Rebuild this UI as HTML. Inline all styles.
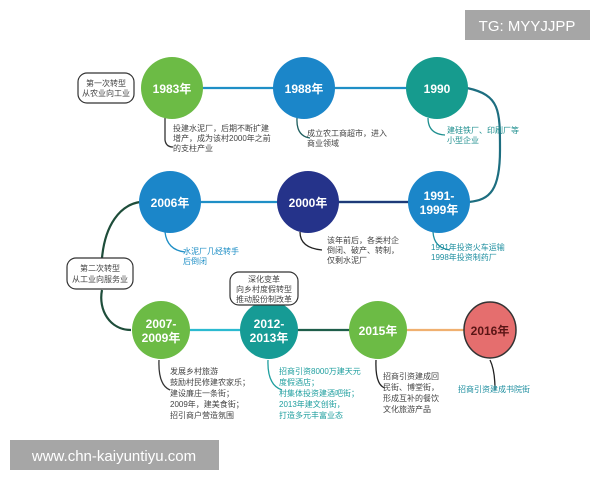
<!DOCTYPE html>
<html><head><meta charset="utf-8"><style>
body{margin:0;background:#fff;}
svg text{font-family:"Liberation Sans","Noto Sans CJK SC",sans-serif;}
</style></head><body>
<svg width="600" height="480" viewBox="0 0 600 480" xmlns="http://www.w3.org/2000/svg">
<rect width="600" height="480" fill="#fff"/>
<!-- connectors -->
<g fill="none" stroke-width="2.2">
<line x1="172" y1="88" x2="437" y2="88" stroke="#1f8fc6"/>
<path d="M467 88 C500 95 500 110 500 150 C500 190 490 200 469 202" stroke="#1d6e80"/>
<line x1="170" y1="202" x2="439" y2="202" stroke="#1f8fc6"/>
<line x1="308" y1="202" x2="439" y2="202" stroke="#1e3a78"/>
<path d="M140 202 C120 205 105 225 102 258" stroke="#1e4d3a"/>
<path d="M102 290 C98 310 110 330 131 330" stroke="#1e4d3a"/>
<line x1="161" y1="330" x2="269" y2="330" stroke="#2bbad0"/>
<line x1="269" y1="330" x2="378" y2="330" stroke="#1e5e4a"/>
<line x1="378" y1="330" x2="490" y2="330" stroke="#f0b070"/>
</g>
<g fill="none" stroke-width="1.3">
<path d="M165 118 V140 Q166 147 173 147" stroke="#333"/>
<path d="M297 118 Q296 136 310 138" stroke="#1e5e5e"/>
<path d="M428 118 Q428 134 445 135" stroke="#1f8f8f"/>
<path d="M165 232 Q167 250 185 252" stroke="#1f8fc6"/>
<path d="M300 232 Q300 248 322 250" stroke="#222"/>
<path d="M433 232 Q434 248 450 250" stroke="#1f8fa0"/>
<path d="M159 360 Q158 385 170 390" stroke="#333"/>
<path d="M268 360 Q267 385 282 390" stroke="#1f9f9f"/>
<path d="M376 360 Q375 385 385 388" stroke="#222"/>
<path d="M490 360 Q495 370 495 390" stroke="#222"/>
</g>
<!-- circles -->
<circle cx="172" cy="88" r="31" fill="#6cbb45"/>
<circle cx="304" cy="88" r="31" fill="#1b86c9"/>
<circle cx="437" cy="88" r="31" fill="#169b8e"/>
<circle cx="170" cy="202" r="31" fill="#1b86c9"/>
<circle cx="308" cy="202" r="31" fill="#25338a"/>
<circle cx="439" cy="202" r="31" fill="#1b86c9"/>
<circle cx="161" cy="330" r="29" fill="#6cbb45"/>
<circle cx="269" cy="330" r="29" fill="#169b95"/>
<circle cx="378" cy="330" r="29" fill="#6cbb45"/>
<ellipse cx="490" cy="330" rx="26" ry="28" fill="#e56e6e" stroke="#333" stroke-width="1.5"/>
<g fill="#fff" font-weight="bold" font-size="12" text-anchor="middle">
<text x="172" y="93">1983年</text>
<text x="304" y="93">1988年</text>
<text x="437" y="93">1990</text>
<text x="170" y="207">2006年</text>
<text x="308" y="207">2000年</text>
<text x="439" y="200">1991-</text><text x="439" y="214">1999年</text>
<text x="161" y="328">2007-</text><text x="161" y="342">2009年</text>
<text x="269" y="328">2012-</text><text x="269" y="342">2013年</text>
<text x="378" y="335">2015年</text>
<text x="490" y="335" fill="#5a1515">2016年</text>
</g>
<!-- label boxes -->
<g fill="#fff" stroke="#333" stroke-width="1.2">
<rect x="78" y="73" width="56" height="30" rx="9"/>
<rect x="67" y="258" width="66" height="31" rx="9"/>
<rect x="230" y="272" width="68" height="33" rx="9"/>
</g>
<g font-size="8" fill="#444" text-anchor="middle">
<text x="106" y="86">第一次转型</text><text x="106" y="96">从农业向工业</text>
<text x="100" y="271">第二次转型</text><text x="100" y="282">从工业向服务业</text>
<text x="264" y="282">深化变革</text><text x="264" y="292">向乡村度假转型</text><text x="264" y="302">推动股份制改革</text>
</g>
<g font-size="8" fill="#444">
<text x="173" y="131">投建水泥厂，后期不断扩建</text>
<text x="173" y="141">增产，成为该村2000年之前</text>
<text x="173" y="151">的支柱产业</text>
<text x="307" y="136">成立农工商超市，进入</text>
<text x="307" y="146">商业领域</text>
<text x="447" y="133" fill="#1f8f8f">建硅铁厂、印刷厂等</text>
<text x="447" y="143" fill="#1f8f8f">小型企业</text>
<text x="183" y="254" fill="#1f8fc6">水泥厂几经转手</text>
<text x="183" y="264" fill="#1f8fc6">后倒闭</text>
<text x="327" y="243">该年前后，各类村企</text>
<text x="327" y="253">倒闭、破产、转制，</text>
<text x="327" y="263">仅剩水泥厂</text>
<text x="431" y="250" fill="#1f8fa0">1991年投资火车运输</text>
<text x="431" y="260" fill="#1f8fa0">1998年投资制药厂</text>
<text x="170" y="374">发展乡村旅游</text>
<text x="170" y="385">鼓励村民修建农家乐；</text>
<text x="170" y="396">建设廉庄一条街；</text>
<text x="170" y="407">2009年，建美食街；</text>
<text x="170" y="418">招引商户营造氛围</text>
<text x="279" y="374" fill="#1f9f9f">招商引资8000万建天元</text>
<text x="279" y="385" fill="#1f9f9f">度假酒店；</text>
<text x="279" y="396" fill="#1f9f9f">村集体投资建酒吧街；</text>
<text x="279" y="407" fill="#1f9f9f">2013年建文创街，</text>
<text x="279" y="418" fill="#1f9f9f">打造多元丰富业态</text>
<text x="383" y="379">招商引资建成回</text>
<text x="383" y="390">民街、博堂街，</text>
<text x="383" y="401">形成互补的餐饮</text>
<text x="383" y="412">文化旅游产品</text>
<text x="458" y="392" fill="#1f8fa0">招商引资建成书院街</text>
</g>
<!-- watermarks -->
<rect x="465" y="10" width="125" height="30" fill="#a6a6a6"/>
<text x="527" y="31" font-size="15" fill="#fff" text-anchor="middle">TG: MYYJJPP</text>
<rect x="10" y="440" width="209" height="30" fill="#a6a6a6"/>
<text x="114" y="461" font-size="15" fill="#fff" text-anchor="middle">www.chn-kaiyuntiyu.com</text>
</svg>
</body></html>
